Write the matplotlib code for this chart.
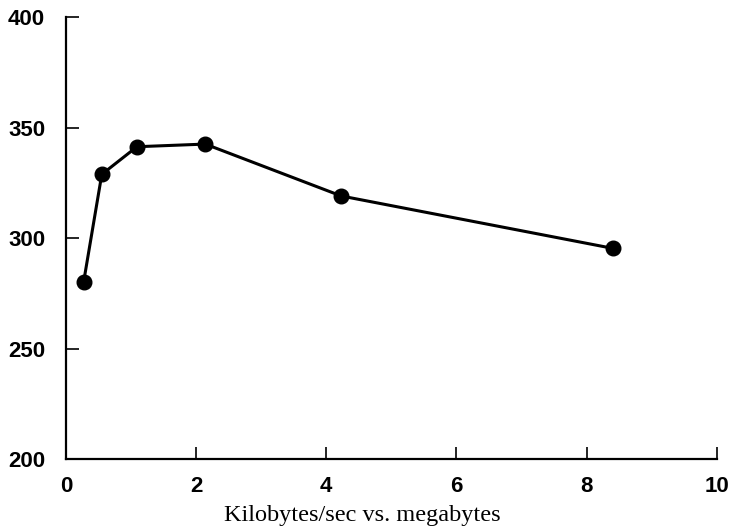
import matplotlib.pyplot as plt

# kilobytes/sec measured at each buffer size (megabytes)
megabytes = [0.27, 0.55, 1.09, 2.14, 4.23, 8.40]
kb_per_sec = [280.0, 328.9, 341.4, 342.6, 319.1, 295.4]

x_ticks = [0, 2, 4, 6, 8, 10]
y_ticks = [200, 250, 300, 350, 400]

fig = plt.figure(figsize=(7.31, 5.28), dpi=100)
ax = fig.add_axes([0.0903, 0.1307, 0.8901, 0.8365])

ax.plot(megabytes, kb_per_sec, color='black', linewidth=2.2,
        marker='o', markersize=10.5, markerfacecolor='black',
        markeredgecolor='black', clip_on=False)

ax.set_xlim(0, 10)
ax.set_ylim(200, 400)
ax.set_xticks(x_ticks)
ax.set_yticks(y_ticks)

for side in ['top', 'right']:
    ax.spines[side].set_visible(False)
for side in ['left', 'bottom']:
    ax.spines[side].set_linewidth(1.6)

ax.tick_params(axis='both', direction='in', length=9, width=1.2, colors='black')
ax.tick_params(axis='x', pad=12)
ax.tick_params(axis='y', pad=15)
for lbl in ax.get_xticklabels() + ax.get_yticklabels():
    lbl.set_fontfamily('Liberation Sans')
    lbl.set_fontsize(16)
    lbl.set_fontweight('bold')

fig.text(0.495, 0.014, 'Kilobytes/sec vs. megabytes', ha='center', va='baseline',
         fontfamily='Liberation Serif', fontsize=17.5)

plt.savefig('out.png', dpi=100)
